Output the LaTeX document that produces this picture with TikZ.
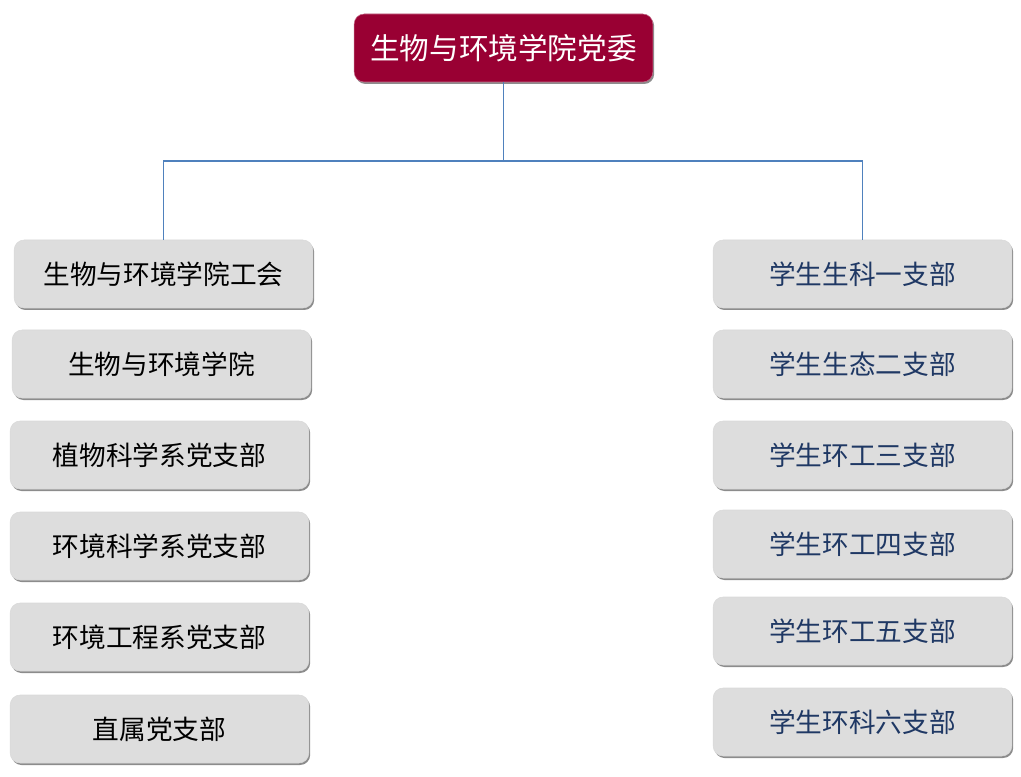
\documentclass[tikz,border=0pt]{standalone}
\usepackage{fontspec}
\usepackage{tikz}
\usepackage{xcolor}
\newfontfamily\cjk{Noto Sans CJK SC}
\definecolor{dangred}{HTML}{990033}
\definecolor{boxgr}{HTML}{DDDDDD}
\definecolor{linebl}{HTML}{4F81BD}
\definecolor{navy}{HTML}{1F3864}
\usetikzlibrary{shadows}

\begin{document}
\begin{tikzpicture}[x=0.75pt, y=-0.75pt,
box/.style={rounded corners=7.5pt, fill=boxgr, draw=gray!30, line width=0.4pt, minimum width=224pt, minimum height=51pt, inner sep=0pt, font=\cjk\fontsize{20}{23}\selectfont, drop shadow={shadow xshift=1pt, shadow yshift=-1.5pt, fill=black!45, opacity=1}},
topbox/.style={box, fill=dangred, draw=dangred!60, text=white, font=\cjk\fontsize{22.2}{25}\selectfont},
conn/.style={draw=linebl, line width=0.8pt}]
\useasboundingbox (0,0) rectangle (1021,777);
\node[topbox] (dw) at (503.5,48) {生物与环境学院党委};
\foreach \n/\x/\y/\txt in {1/163.5/274/生物与环境学院工会, 2/161.5/364/生物与环境学院, 3/159.5/455/植物科学系党支部, 4/159.5/546/环境科学系党支部, 5/159.5/637/环境工程系党支部, 6/159.5/729/直属党支部}{
\node[box] (l\n) at (\x,\y) {\txt};
}
\foreach \n/\y/\txt in {1/274/学生生科一支部, 2/364/学生生态二支部, 3/455/学生环工三支部, 4/544/学生环工四支部, 5/631/学生环工五支部, 6/722/学生环科六支部}{
\node[box, text=navy] (r\n) at (862.5,\y) {\txt};
}
\coordinate (mid) at (503.5,161);
\draw[conn] (dw.south) -- (mid);
\draw[conn] (l1.north) |- (mid) -| (r1.north);
\end{tikzpicture}
\end{document}
